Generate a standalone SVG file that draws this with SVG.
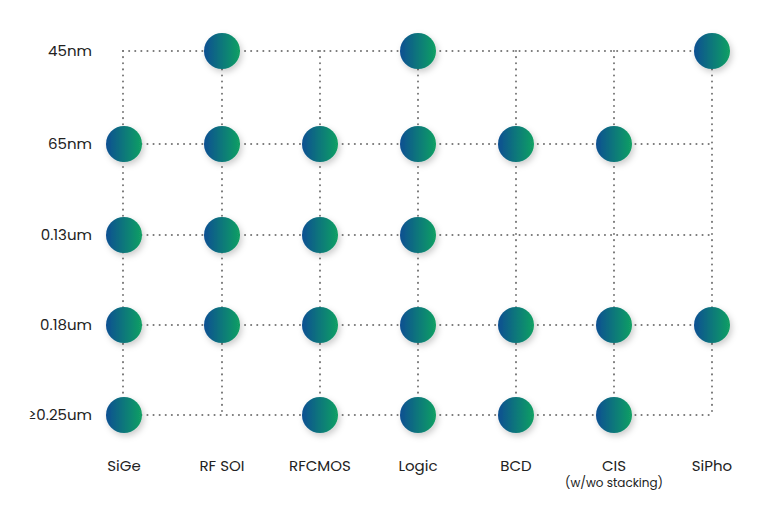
<svg xmlns="http://www.w3.org/2000/svg" width="768" height="516" viewBox="0 0 768 516">
<defs>
<linearGradient id="g" x1="0" y1="0" x2="1" y2="0"><stop offset="0" stop-color="#0a4f92"/><stop offset="1" stop-color="#12a063"/></linearGradient>
<filter id="s" x="-50%" y="-50%" width="200%" height="200%"><feDropShadow dx="2" dy="3" stdDeviation="3" flood-color="#000" flood-opacity="0.2"/></filter>
</defs>
<style>
.l{stroke:#777;stroke-width:2;stroke-dasharray:0.1 6;stroke-linecap:round;fill:none}
.n{fill:url(#g);filter:url(#s)}
text{font-family:"Poppins","Lato","Liberation Sans",sans-serif;fill:#222;font-size:15px}
.c{text-anchor:middle}
.r{text-anchor:end}
</style>
<rect width="768" height="516" fill="#fff"/>
<g id="connectors">
<path class="l" d="M123 51H712M123 144H712M123 235H712M123 325H712M123 415H712"/>
<path class="l" d="M123 51V415M222 51V415M320 51V415M418 51V415M516 51V415M614 51V415M712 51V415"/>
</g>
<g id="labels">
<text class="r" x="92" y="56">45nm</text>
<text class="r" x="92" y="149">65nm</text>
<text class="r" x="92" y="240">0.13um</text>
<text class="r" x="92" y="330">0.18um</text>
<text class="r" x="92" y="420">≥0.25um</text>
<text class="c" x="124" y="471">SiGe</text>
<text class="c" x="222" y="471">RF SOI</text>
<text class="c" x="320" y="471">RFCMOS</text>
<text class="c" x="418" y="471">Logic</text>
<text class="c" x="516" y="471">BCD</text>
<text class="c" x="614" y="471">CIS</text>
<text class="c" x="614" y="487" style="font-size:12px">(w/wo stacking)</text>
<text class="c" x="712" y="471">SiPho</text>
</g>
<g id="nodes">
<circle class="n" cx="222" cy="51" r="18"/><circle class="n" cx="418" cy="51" r="18"/><circle class="n" cx="712" cy="51" r="18"/>
<circle class="n" cx="124" cy="144" r="18"/><circle class="n" cx="222" cy="144" r="18"/><circle class="n" cx="320" cy="144" r="18"/><circle class="n" cx="418" cy="144" r="18"/><circle class="n" cx="516" cy="144" r="18"/><circle class="n" cx="614" cy="144" r="18"/>
<circle class="n" cx="124" cy="235" r="18"/><circle class="n" cx="222" cy="235" r="18"/><circle class="n" cx="320" cy="235" r="18"/><circle class="n" cx="418" cy="235" r="18"/>
<circle class="n" cx="124" cy="325" r="18"/><circle class="n" cx="222" cy="325" r="18"/><circle class="n" cx="320" cy="325" r="18"/><circle class="n" cx="418" cy="325" r="18"/><circle class="n" cx="516" cy="325" r="18"/><circle class="n" cx="614" cy="325" r="18"/><circle class="n" cx="712" cy="325" r="18"/>
<circle class="n" cx="124" cy="415" r="18"/><circle class="n" cx="320" cy="415" r="18"/><circle class="n" cx="418" cy="415" r="18"/><circle class="n" cx="516" cy="415" r="18"/><circle class="n" cx="614" cy="415" r="18"/>
</g>
</svg>
